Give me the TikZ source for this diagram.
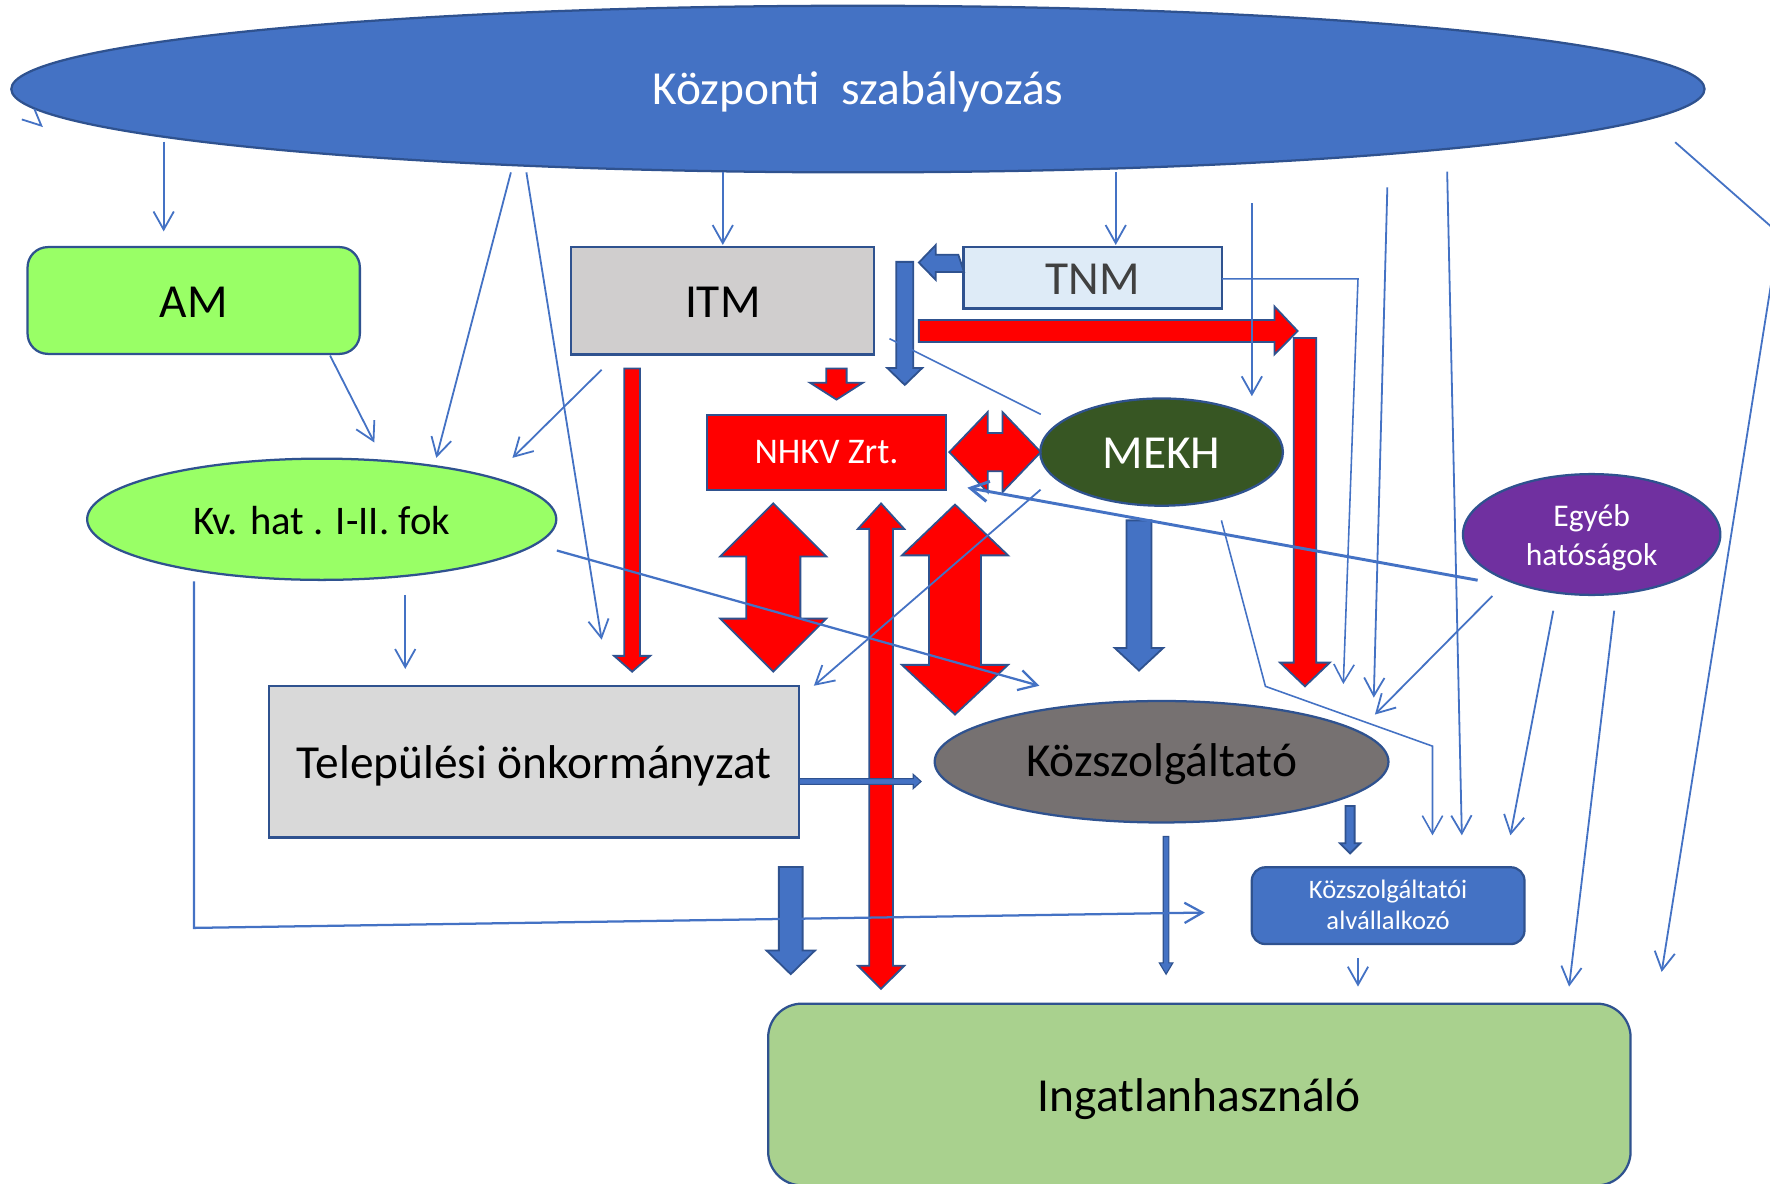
\documentclass[tikz,border=0pt]{standalone}
\usepackage{fontspec}
\setmainfont{Carlito}
\usetikzlibrary{arrows.meta,shapes.geometric}
\definecolor{cblue}{HTML}{4472C4}
\definecolor{cdark}{HTML}{2F528F}
\definecolor{cgreen}{HTML}{99FF66}
\definecolor{citm}{HTML}{D0CECE}
\definecolor{ctnm}{HTML}{DEEBF7}
\definecolor{cred}{HTML}{FF0000}
\definecolor{cmekh}{HTML}{375623}
\definecolor{cegy}{HTML}{7030A0}
\definecolor{ctel}{HTML}{D9D9D9}
\definecolor{cksz}{HTML}{767171}
\definecolor{cing}{HTML}{A9D18E}
\definecolor{ctnmtxt}{HTML}{404040}
% down block arrow: style, x, ytop, yhead, ytip, shaft half, head half
\newcommand\vdown[7]{\draw[#1] ({#2-#6},#3) -- ({#2+#6},#3) -- ({#2+#6},#4) -- ({#2+#7},#4) -- (#2,#5) -- ({#2-#7},#4) -- ({#2-#6},#4) -- cycle;}
% double vertical block arrow: style, x, ytoptip, yheadbase1, yheadbase2, ybottip, shaft half, head half
\newcommand\vdbl[8]{\draw[#1] (#2,#3) -- ({#2+#8},#4) -- ({#2+#7},#4) -- ({#2+#7},#5) -- ({#2+#8},#5) -- (#2,#6) -- ({#2-#8},#5) -- ({#2-#7},#5) -- ({#2-#7},#4) -- ({#2-#8},#4) -- cycle;}
% two-line text with fixed height (last baseline sits H-D/2 below centre)
\newcommand\twolines[3]{\raisebox{0pt}[#3][0pt]{\begin{tabular}[b]{@{}c@{}}#1\\#2\end{tabular}}}
\begin{document}
\begin{tikzpicture}[x=0.5pt,y=-0.5pt,
 box/.style={draw=cdark,line width=1pt,inner sep=0pt,outer sep=0pt,align=center,text depth=0pt},
 ell/.style={box,ellipse},
 big/.style={font=\fontsize{21}{25}\selectfont},
 conn/.style={draw=cblue,line width=0.8pt,-{Straight Barb[length=8pt,width=9pt]}},
 plain/.style={draw=cblue,line width=0.7pt},
 redarr/.style={fill=cred,draw=cdark,line width=0.8pt,line join=miter},
 bluearr/.style={fill=cblue,draw=cdark,line width=0.8pt,line join=miter}]
\useasboundingbox (0,0) rectangle (1568,1048);
\clip (0,0) rectangle (1568,1048);

% ---------- nodes ----------
\node[ell,fill=cblue,minimum width=750pt,minimum height=73.8pt,text=white,big,text height=13.5pt] (cen) at (760,78.9) {Központi\ \ szabályozás};
\node[box,fill=cgreen,rounded corners=9pt,minimum width=147.2pt,minimum height=47.3pt,big,text height=14.8pt] (am) at (171.6,266.2) {AM};
\node[box,fill=citm,minimum width=134.2pt,minimum height=47.5pt,big,text height=14.5pt] (itm) at (640.3,266.5) {ITM};
\node[box,fill=ctnm,minimum width=114.4pt,minimum height=27.2pt,big,text=ctnmtxt,text height=14.7pt] (tnm) at (968,246) {TNM};
\node[box,fill=cred,minimum width=105.7pt,minimum height=33.5pt,text=white,font=\fontsize{16}{19}\selectfont,text height=9.8pt] (nhkv) at (732.2,400.9) {NHKV Zrt.};
\node[ell,fill=cmekh,minimum width=107.5pt,minimum height=47.5pt,text=white,big,text height=14.3pt] (mekh) at (1029,400.5) {MEKH};
\node[ell,fill=cgreen,minimum width=207.8pt,minimum height=53.7pt,font=\fontsize{18}{22}\selectfont,text height=13.5pt] (kv) at (285,460) {Kv. hat . I-II. fok};
\node[ell,fill=cegy,minimum width=114pt,minimum height=53.5pt,text=white,font=\fontsize{14}{17}\selectfont] (egy) at (1410,473.5) {\twolines{Egyéb}{hatóságok}{27.1pt}};
\node[box,fill=ctel,minimum width=235pt,minimum height=67.3pt,big,text height=14.9pt] (tel) at (473,674.7) {Települési önkormányzat};
\node[ell,fill=cksz,minimum width=201pt,minimum height=53.8pt,big,text height=13.1pt] (ksz) at (1029,674.8) {Közszolgáltató};
\node[box,fill=cblue,rounded corners=6pt,minimum width=120.8pt,minimum height=34pt,text=white,font=\fontsize{11.8}{14}\selectfont] (alv) at (1229.7,802.3) {\twolines{Közszolgáltatói}{alvállalkozó}{21.3pt}};
\node[box,fill=cing,rounded corners=15pt,minimum width=382pt,minimum height=80.5pt,big,text height=14.6pt] (ing) at (1062.5,969.6) {Ingatlanhasználó};

% small arrow tip at the left of the top ellipse
\draw[plain,line width=0.8pt] (30.5,96.6) -- (36.6,111.3) -- (19.3,105.8);

% ---------- red block arrows ----------
\vdown{redarr}{741}{326.5}{339}{354}{9}{23.5}
\vdown{redarr}{560}{326.5}{581}{595}{7}{16}
\vdown{redarr}{1156}{299.4}{587}{608}{10}{22}
\draw[redarr] (814,283.5) -- (1129,283.5) -- (1129,271.5) -- (1149.5,293.25) -- (1129,314) -- (1129,303) -- (814,303) -- cycle;
\draw[redarr] (841,400.5) -- (875,365) -- (875,383.5) -- (888,383.5) -- (888,365) -- (922,400.5) -- (888,436) -- (888,417.5) -- (875,417.5) -- (875,436) -- cycle;
\vdbl{redarr}{685}{446}{493}{548}{595}{24}{47}
\vdbl{redarr}{780.5}{446}{468.5}{855.6}{876}{10.5}{20.5}
\vdbl{redarr}{846}{447}{492}{589}{633}{23}{47}

% ---------- blue block arrows ----------
\vdown{bluearr}{801.5}{232}{326}{341}{7.5}{15.5}
\vdown{bluearr}{1009}{461}{574}{594}{11}{21.5}
\vdown{bluearr}{700.5}{768}{842}{863}{10.5}{21.5}
\vdown{bluearr}{1196}{714}{747}{756}{4}{9}
\vdown{bluearr,line width=0.5pt}{1033}{741}{853}{863}{2.5}{6}
\draw[bluearr] (849,225.7) -- (829,225.7) -- (829,217) -- (814,232.6) -- (829,248) -- (829,241) -- (854,241) -- cycle;
\draw[bluearr,line width=0.5pt] (708,689.8) -- (809,689.8) -- (809,686) -- (816,692.3) -- (809,698.6) -- (809,694.8) -- (708,694.8) -- cycle;

% ---------- connector end points ----------
\coordinate (a1) at (145,125.5);   \coordinate (b1) at (145,205);
\coordinate (a3) at (452.6,152.7); \coordinate (b3) at (386.5,405.6);
\coordinate (a4) at (466.3,152.7); \coordinate (b4) at (533,566.7);
\coordinate (a5) at (640.3,152.7); \coordinate (b5) at (640.3,217);
\coordinate (a6) at (988.4,152.7); \coordinate (b6) at (988.4,217);
\coordinate (a7) at (292.4,315);   \coordinate (b7) at (331.6,392);
\coordinate (a8) at (533,327.5);   \coordinate (b8) at (454,405.6);
\coordinate (a9) at (359,527);     \coordinate (b9) at (359,592.6);
\coordinate (a10) at (493.3,487.7); \coordinate (b10) at (920.7,607.5);
\coordinate (a11) at (171.9,515);  \coordinate (m11) at (171.9,822); \coordinate (b11) at (1067.3,808.4);
\coordinate (a12) at (921.8,433.8); \coordinate (b12) at (721,607.5);
\coordinate (a13) at (1309,514);   \coordinate (b13) at (857,432);
\coordinate (a14) at (788,300);    \coordinate (b14) at (922,367);
\coordinate (a15) at (1082.4,247); \coordinate (m15) at (1203,247); \coordinate (b15) at (1190,606);
\coordinate (a16) at (1109,180);   \coordinate (b16) at (1109,351);
\coordinate (a17) at (1229,166);   \coordinate (b17) at (1217,618);
\coordinate (a18) at (1282,152);   \coordinate (b18) at (1295,740);
\coordinate (a19) at (1484,126);   \coordinate (b19) at (1600,228);
\coordinate (a20) at (1580,182);   \coordinate (b20) at (1472,861);
\coordinate (a21) at (1322,528);   \coordinate (b21) at (1218,633);
\coordinate (a22) at (1376,541);   \coordinate (b22) at (1338,740);
\coordinate (a23) at (1430,541);   \coordinate (b23) at (1390,874);
\coordinate (a24) at (1082,461);   \coordinate (m24a) at (1121,608); \coordinate (m24b) at (1269,661); \coordinate (b24) at (1269,740);
\coordinate (a27) at (1203,849);   \coordinate (b27) at (1203,874);

% ---------- thin connectors ----------
\draw[conn] (a1) -- (b1);
\draw[conn] (a3) -- (b3);
\draw[conn] (a4) -- (b4);
\draw[conn] (a5) -- (b5);
\draw[conn] (a6) -- (b6);
\draw[conn] (a7) -- (b7);
\draw[conn] (a8) -- (b8);
\draw[conn] (a9) -- (b9);
\draw[conn,line width=1pt] (a10) -- (b10);
\draw[conn,line width=1pt] (a11) -- (m11) -- (b11);
\draw[conn] (a12) -- (b12);
\draw[conn,line width=1.3pt] (a13) -- (b13);
\draw[plain] (a14) -- (b14);
\draw[conn,line width=0.7pt] (a15) -- (m15) -- (b15);
\draw[conn] (a16) -- (b16);
\draw[conn] (a17) -- (b17);
\draw[conn] (a18) -- (b18);
\draw[plain,line width=0.8pt] (a19) -- (b19);
\draw[conn] (a20) -- (b20);
\draw[conn] (a21) -- (b21);
\draw[conn] (a22) -- (b22);
\draw[conn] (a23) -- (b23);
\draw[conn,line width=0.7pt] (a24) -- (m24a) -- (m24b) -- (b24);
\draw[conn] (a27) -- (b27);
\end{tikzpicture}
\end{document}
